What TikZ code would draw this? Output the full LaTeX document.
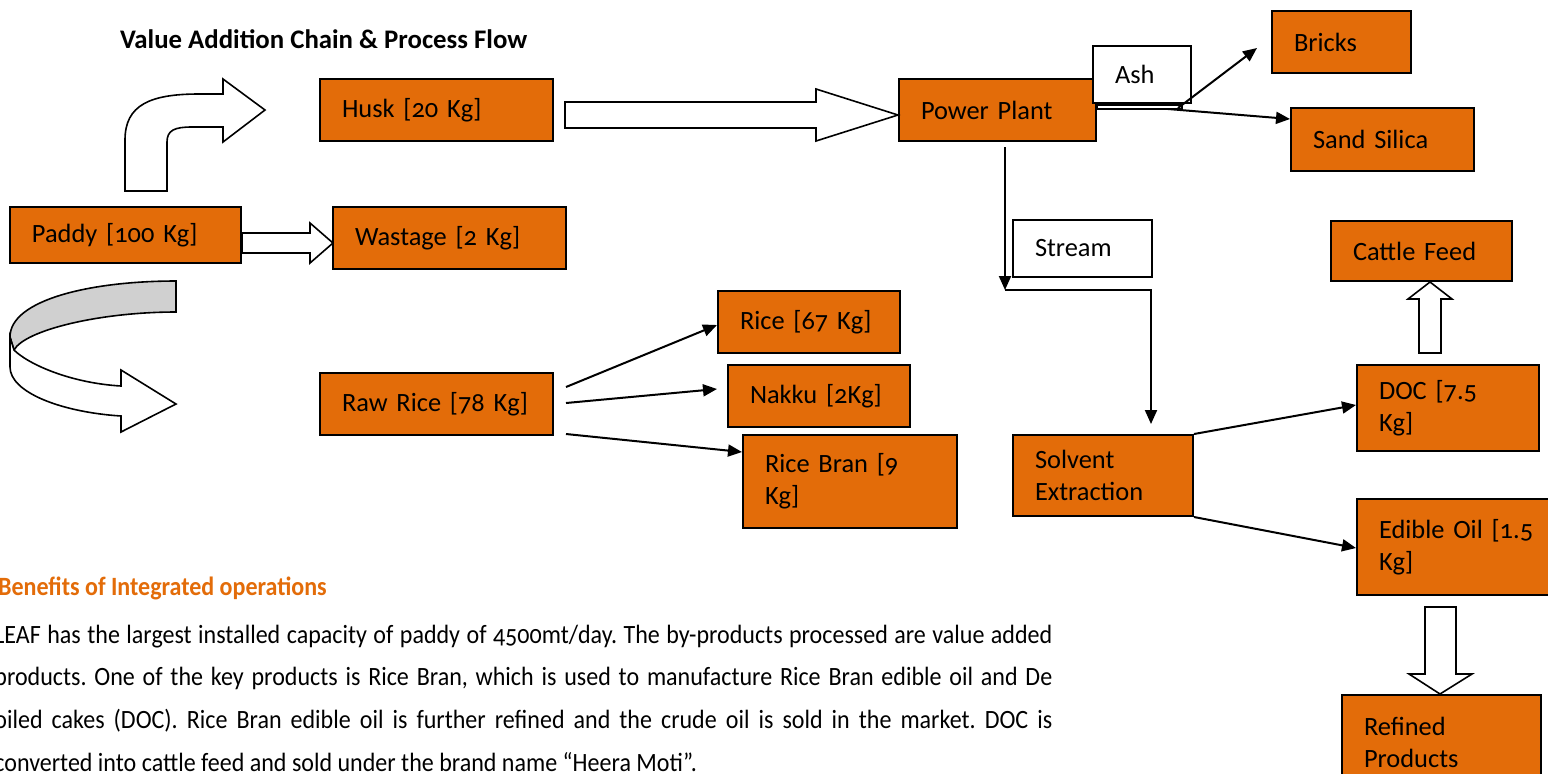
\documentclass[tikz,border=0pt]{standalone}
\usepackage{fontspec}
\setmainfont{Carlito}[Numbers=OldStyle]
\newfontfamily\parafont{Carlito}[FakeStretch=0.91,Numbers=OldStyle]
\usetikzlibrary{arrows.meta,positioning,calc}
\definecolor{boxorange}{HTML}{E36C09}
\definecolor{bandgray}{HTML}{D0D0D0}
\frenchspacing

\begin{document}
\begin{tikzpicture}[
  x=0.5pt, y=-0.5pt,
  font=\fontsize{13.2}{16}\selectfont,
  >={Triangle[length=7pt,width=6pt]},
  box/.style={draw,line width=1pt,fill=boxorange,inner xsep=11pt,inner ysep=0pt,
              align=left,minimum width=#1,text width=#1-22pt},
  tag/.style={box=#1,fill=white},
  hollow/.style={draw,line width=0.8pt,fill=white,line join=miter},
  flow/.style={line width=1pt,->}
]
\path[use as bounding box,clip] (0,0) rectangle (1548,773);

% title
\node[font=\fontsize{13.4}{16}\selectfont\bfseries,anchor=base west] (title) at (113,48)
  {Value Addition Chain \& Process Flow};

% milling side
\node[box=115.5pt,minimum height=28pt] (paddy) at (125.5,235) {Paddy [100 Kg]};
\node[box=116.5pt,minimum height=31pt] (husk) at (436.5,110) {Husk [20 Kg]};
\node[box=116.5pt,minimum height=31pt] (wastage) at (449.5,238) {Wastage [2 Kg]};
\node[box=116.5pt,minimum height=31pt] (rawrice) at (436.5,404) {Raw Rice [78 Kg]};
\node[box=91pt,minimum height=31pt] (rice) at (809,322) {Rice [67 Kg]};
\node[box=91pt,minimum height=31pt] (nakku) at (819,396) {Nakku [2Kg]};
\node[box=107pt,minimum height=46.5pt] (bran) at (850,481.5) {Rice Bran [9\\Kg]};

% by-products side
\node[box=98.5pt,minimum height=31pt] (power) at (997.5,110) {Power Plant};
\node[tag=49pt,minimum height=28.5pt] (ash) at (1142,74.5) {Ash};
\node[box=69.5pt,minimum height=31pt] (bricks) at (1341.5,42) {Bricks};
\node[box=91.5pt,minimum height=31.5pt] (sand) at (1382.5,139.5) {Sand Silica};
\node[tag=69.5pt,minimum height=28.5pt] (stream) at (1082.5,248.5) {Stream};
\node[box=90pt,minimum height=40.5pt] (solvent) at (1103,475.5) {Solvent\\Extraction};
\node[box=90.5pt,minimum height=30pt] (cattle) at (1421.5,251) {Cattle Feed};
\node[box=91pt,minimum height=43pt] (doc) at (1448,408) {DOC [7.5\\Kg]};
\node[box=99.5pt,minimum height=48pt] (edible) at (1456.5,547) {Edible Oil [1.5\\Kg]};
\node[box=99.5pt,minimum height=47.5pt] (refined) at (1441.5,742.5) {Refined\\Products};

% block arrows
\draw[hollow] (125,191) -- (125,140) .. controls (125,105) and (150,94) .. (199,94)
  -- (223,94) -- (223,79) -- (265,110) -- (223,142) -- (223,127) -- (192,127)
  .. controls (175,127) and (167,130) .. (167,142) -- (167,191) -- cycle;
\draw[hollow] (paddy.east |- 0,233) -- (310,233) -- (310,223) -- (333,243)
  -- (310,263) -- (310,253) -- (paddy.east |- 0,253) -- cycle;
\draw[hollow] (565,102) -- (816,102) -- (816,89) -- (power.west |- 0,115)
  -- (816,141) -- (816,128) -- (565,128) -- cycle;
\draw[hollow] (1419,353) -- (1419,299) -- (1408,299) -- (cattle.south -| 1430,0)
  -- (1452,299) -- (1441,299) -- (1441,353) -- cycle;
\draw[hollow] (1425,607) -- (1425,674) -- (1409,674) -- (refined.north -| 1440,0)
  -- (1472,674) -- (1456,674) -- (1456,607) -- cycle;

% turning arrow
\draw[hollow,fill=bandgray] (176,281) .. controls (90,281) and (10,300) .. (10,337)
  -- (14,350) .. controls (25,330) and (100,312) .. (176,312) -- cycle;
\draw[hollow] (10,337) -- (10,367) .. controls (10,392) and (60,412) .. (121,416)
  -- (121,432) -- (176,404) -- (121,370) -- (121,386)
  .. controls (70,383) and (28,364) .. (14,350) -- cycle;

% rice split
\draw[flow] ([shift={(12,-17)}]rawrice.east) -- ([shift={(0,3)}]rice.west);
\draw[flow] ([shift={(12,-1)}]rawrice.east) -- ([shift={(-10,-7)}]nakku.west);
\draw[flow] ([shift={(12,30)}]rawrice.east) -- ([shift={(0,-29.5)}]bran.west);

% ash
\coordinate (ashsplit) at (1178,108);
\draw[line width=0.8pt,fill=white] ([shift={(0,-5)}]power.east) rectangle (1182,109);
\draw[flow] (ashsplit) -- ([shift={(-14,-26)}]bricks.south west);
\draw[flow] ([shift={(-10,1)}]ashsplit) -- ([shift={(0,-20.5)}]sand.west);

% stream
\coordinate (stm) at (1005,290);
\draw[flow] ([shift={(7.5,5)}]power.south) -- (stm);
\draw[flow] (stm) -| ([shift={(48,-10)}]solvent.north);

% solvent split
\draw[flow] (solvent.north east) -- ([shift={(0,-3)}]doc.west);
\draw[flow] (solvent.south east) -- ([shift={(0,1)}]edible.west);

% text below
\node[anchor=base west,text=boxorange,
      font=\parafont\fontsize{13.2}{16}\selectfont\bfseries] (benefits) at (-9,595)
  {Benefits of Integrated operations};
\node[anchor=base west,align=left,inner sep=0pt,
      font=\parafont\fontsize{13.2}{21.3}\selectfont] (para) at (-6,771)
  {\makebox[529pt][s]{LEAF has the largest installed capacity of paddy of 4500mt/day. The by-products processed are value added}\\
   \makebox[529pt][s]{products. One of the key products is Rice Bran, which is used to manufacture Rice Bran edible oil and De}\\
   \makebox[529pt][s]{oiled cakes (DOC). Rice Bran edible oil is further refined and the crude oil is sold in the market. DOC is}\\
   converted into cattle feed and sold under the brand name “Heera Moti”.};
\end{tikzpicture}
\end{document}
